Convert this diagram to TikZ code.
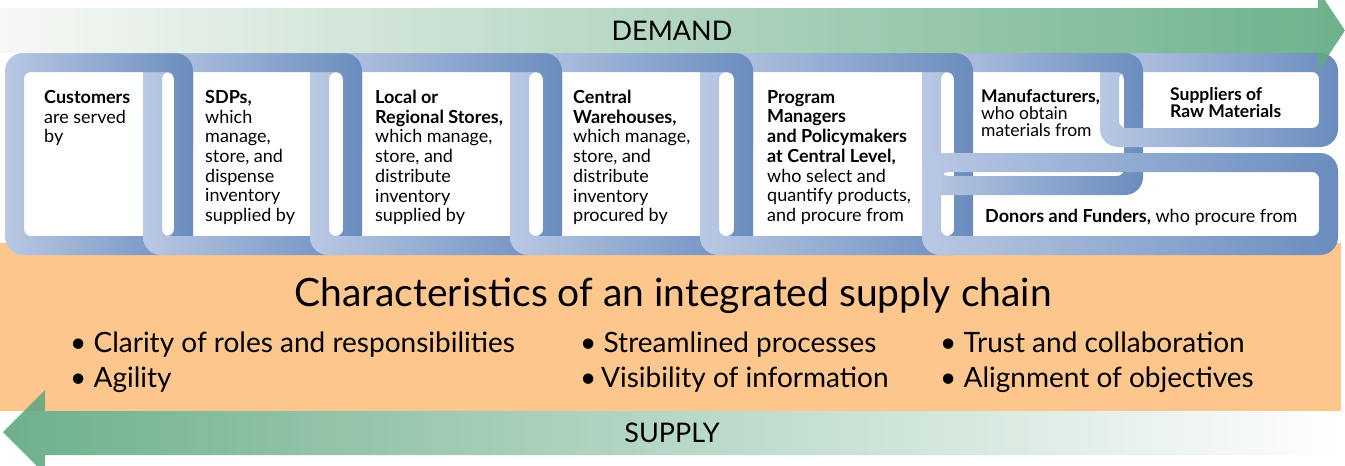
\documentclass[tikz,border=0pt]{standalone}
\usepackage{fontspec}
\setmainfont{Lato}
\definecolor{chainlight}{HTML}{B9C8E4}
\definecolor{chaindark}{HTML}{6A8DBE}
\definecolor{orangebg}{HTML}{FDC68C}
\definecolor{demandR}{HTML}{5EAA80}
\definecolor{demandL}{HTML}{F6F8F4}
\definecolor{supplyL}{HTML}{5BA67D}
\newcommand\chainring[4]{%
  \shade[left color=chainlight, right color=chaindark, even odd rule]
    [rounded corners=18pt] (#1,#2) rectangle (#3,#4)
    [rounded corners=7pt] ({#1+19},{#2+19}) rectangle ({#3-19},{#4-19});}
\begin{document}
\begin{tikzpicture}[x=1pt,y=-1pt,
  ctext/.style={anchor=north west, inner sep=0pt, align=left,
    font=\fontsize{18}{19.7}\selectfont},
  ctextB/.style={anchor=north west, inner sep=0pt, align=left,
    font=\fontsize{17.5}{17}\selectfont},
  bullet/.style={anchor=base west, inner sep=0pt, font=\fontsize{28}{32}\selectfont},
  arrowlabel/.style={anchor=base, inner sep=0pt, font=\fontsize{27}{30}\selectfont}]
\useasboundingbox (0,0) rectangle (1345,466);
\clip (0,0) rectangle (1345,466);
\fill[white] (0,0) rectangle (1345,466);
% orange panel
\fill[orangebg] (0,243) rectangle (1341,411);
% chain links
\chainring{5}{53}{193}{255}
\chainring{143}{53}{362}{255}
\chainring{310}{53}{562}{255}
\chainring{510}{53}{753}{255}
\chainring{700}{53}{973}{255}
\begin{scope}\clip (141,48) rectangle (196,150); \chainring{5}{53}{193}{255}\end{scope}
\begin{scope}\clip (308,48) rectangle (365,150); \chainring{143}{53}{362}{255}\end{scope}
\begin{scope}\clip (508,48) rectangle (565,150); \chainring{310}{53}{562}{255}\end{scope}
\begin{scope}\clip (698,48) rectangle (756,150); \chainring{510}{53}{753}{255}\end{scope}
\chainring{922}{53}{1143}{195}
\begin{scope}\clip (920,48) rectangle (976,110); \chainring{700}{53}{973}{255}\end{scope}
\chainring{1100}{53}{1338}{147}
\begin{scope}\clip (1098,48) rectangle (1146,110); \chainring{922}{53}{1143}{195}\end{scope}
\chainring{922}{153}{1338}{255}
% demand arrow
\shade[left color=demandL, right color=demandR, opacity=0.9]
  (0,8) -- (1318,8) -- (1318,-10) -- (1345,30.5) -- (1318,71) -- (1318,53) -- (0,53) -- cycle;
% supply arrow
\shade[left color=supplyL, right color=white, opacity=0.88]
  (1341,411) -- (45,411) -- (45,390) -- (3,432) -- (45,474) -- (45,455) -- (1341,455) -- cycle;
\node[arrowlabel] (demand) at (672,40) {DEMAND};
\node[arrowlabel] (supply) at (672,442) {SUPPLY};
% chain texts
\node[ctext] (cust) at (44,90) {\textbf{Customers}\\are served\\by};
\node[ctext] (sdp) at (205,90) {\textbf{SDPs,}\\which\\manage,\\store, and\\dispense\\inventory\\supplied by};
\node[ctext] (local) at (375,90) {\textbf{Local or}\\\textbf{Regional Stores,}\\which manage,\\store, and\\distribute\\inventory\\supplied by};
\node[ctext] (central) at (573,90) {\textbf{Central}\\\textbf{Warehouses,}\\which manage,\\store, and\\distribute\\inventory\\procured by};
\node[ctext] (prog) at (767,90) {\textbf{Program}\\\textbf{Managers}\\\textbf{and Policymakers}\\\textbf{at Central Level,}\\who select and\\quantify products,\\and procure from};
\node[ctextB] (manu) at (981,89) {\textbf{Manufacturers,}\\who obtain\\materials from};
\node[ctextB] (suppl) at (1170,87) {\textbf{Suppliers of}\\\textbf{Raw Materials}};
\node[ctext, anchor=base west] (donor) at (985,222) {\textbf{Donors and Funders,} who procure from};
% characteristics
\node[inner sep=0pt, font=\fontsize{39}{44}\selectfont] (title) at (673,296) {Characteristics of an integrated supply chain};
\node[bullet] (b1) at (70,352) {• Clarity of roles and responsibilities};
\node[bullet] (b2) at (70,387) {• Agility};
\node[bullet] (b3) at (580,352) {• Streamlined processes};
\node[bullet] (b4) at (580,387) {•\,Visibility of information};
\node[bullet] (b5) at (940,352) {• Trust and collaboration};
\node[bullet] (b6) at (940,387) {• Alignment of objectives};
\end{tikzpicture}
\end{document}
